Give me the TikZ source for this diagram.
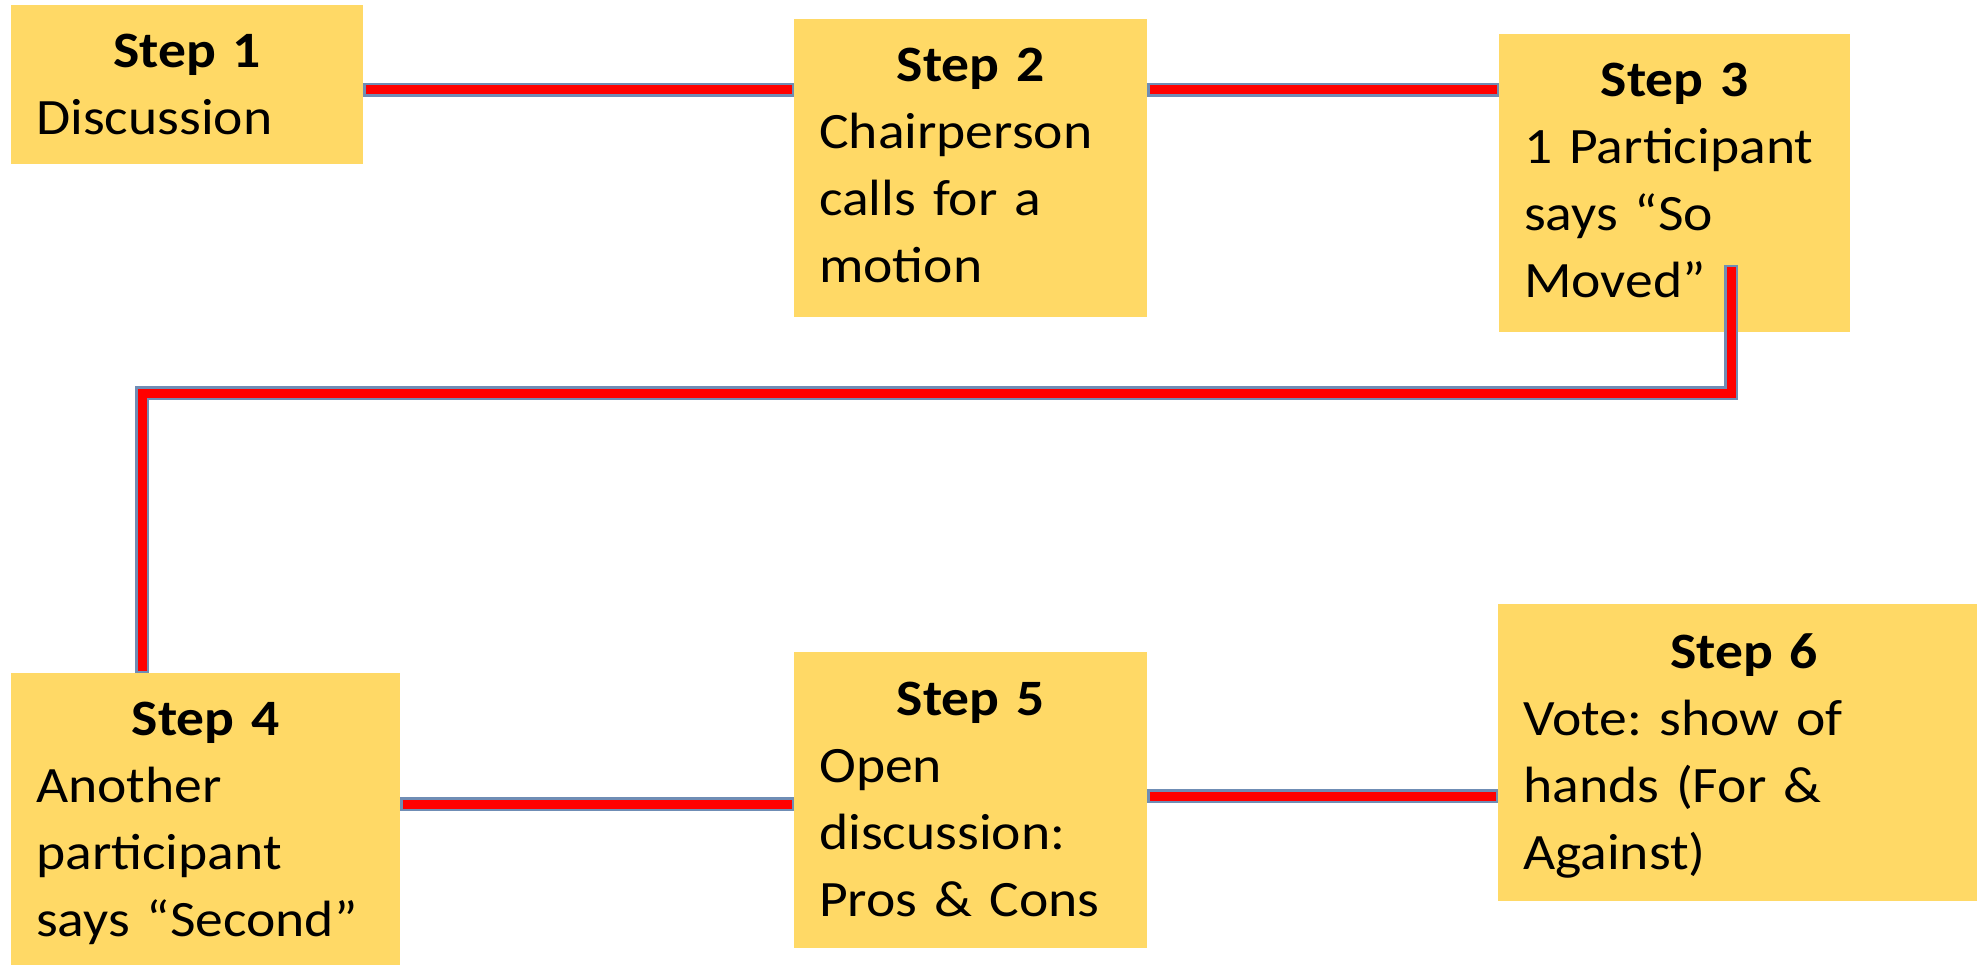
\documentclass[tikz,border=0pt]{standalone}
\usepackage{fontspec}
\setmainfont{Carlito}[FakeStretch=1.09, WordSpace=0.6]
\frenchspacing
\definecolor{boxfill}{HTML}{FFD966}
\definecolor{edgeblue}{HTML}{6F8DB5}
\definecolor{linered}{HTML}{FF0000}
\begin{document}
\begin{tikzpicture}[x=1pt,y=-1pt,
  stepbox/.style={fill=boxfill, draw=none, anchor=north west, inner sep=0pt, outer sep=0pt},
  steptext/.style={anchor=base west, inner sep=0pt, align=left, font=\fontsize{51}{67}\selectfont\frenchspacing},
  outerline/.style={draw=edgeblue, line width=14pt, line join=miter},
  innerline/.style={draw=linered, line width=9pt, line join=miter, shorten <=2.5pt, shorten >=2.5pt},
]
\useasboundingbox[fill=white] (0,0) rectangle (1977,965);
% boxes
\node[stepbox, minimum width=352pt, minimum height=159pt] (s1) at (11,5) {};
\node[stepbox, minimum width=353pt, minimum height=298pt] (s2) at (794,19) {};
\node[stepbox, minimum width=351pt, minimum height=298pt] (s3) at (1499,34) {};
\node[stepbox, minimum width=389pt, minimum height=292pt] (s4) at (11,673) {};
\node[stepbox, minimum width=353pt, minimum height=296pt] (s5) at (794,652) {};
\node[stepbox, minimum width=479pt, minimum height=297pt] (s6) at (1498,604) {};
% texts
\node[steptext, text width=302pt] (t1) at (36,68) {\makebox[\linewidth][c]{\bfseries Step 1}\\Discussion};
\node[steptext, text width=303pt] (t2) at (819,82) {\makebox[\linewidth][c]{\bfseries Step 2}\\Chairperson\\calls for a\\motion};
\node[steptext, text width=301pt] (t3) at (1524,97) {\makebox[\linewidth][c]{\bfseries Step 3}\\1 Participant\\says “So\\Moved”};
\node[steptext, text width=339pt] (t4) at (36,735) {\makebox[\linewidth][c]{\bfseries Step 4}\\Another\\participant\\says “Second”};
\node[steptext, text width=303pt] (t5) at (819,715) {\makebox[\linewidth][c]{\bfseries Step 5}\\Open\\discussion:\\Pros \& Cons};
\node[steptext, text width=442pt] (t6) at (1523,668) {\makebox[\linewidth][c]{\bfseries Step 6}\\Vote: show of\\hands (For \&\\Against)};
% connector coordinates
\coordinate (m3) at (1731,265);
\coordinate (k3) at (1731,393);
\coordinate (k4) at (142,393);
% connectors
\foreach \st in {outerline, innerline} {
  \draw[\st] (s1.east |- 0,90) -- (s2.west |- 0,90);
  \draw[\st] (s2.east |- 0,90) -- (s3.west |- 0,90);
  \draw[\st] (s4.east |- 0,804) -- (s5.west |- 0,804);
  \draw[\st] (s5.east |- 0,796) -- (s6.west |- 0,796);
  \draw[\st] (m3) -- (k3) -- (k4) -- (s4.north -| k4);
}
\end{tikzpicture}
\end{document}
